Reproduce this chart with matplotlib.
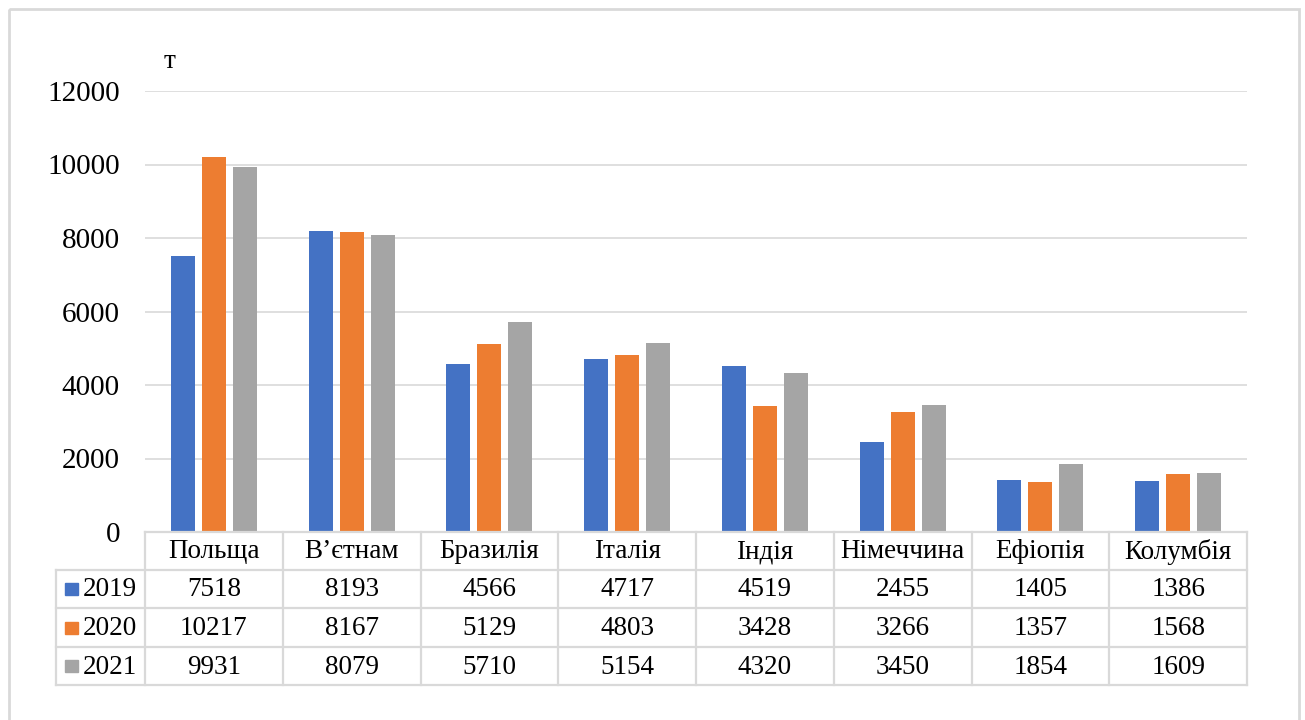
import matplotlib.pyplot as plt
import numpy as np
from matplotlib.patches import Rectangle

# Дані: країни та обсяги по роках (т)
countries = ['Польща', 'В’єтнам', 'Бразилія', 'Італія', 'Індія', 'Німеччина', 'Ефіопія', 'Колумбія']
years = ['2019', '2020', '2021']
v2019 = [7518, 8193, 4566, 4717, 4519, 2455, 1405, 1386]
v2020 = [10217, 8167, 5129, 4803, 3428, 3266, 1357, 1568]
v2021 = [9931, 8079, 5710, 5154, 4320, 3450, 1854, 1609]
series = [v2019, v2020, v2021]
colors = ['#4472C4', '#ED7D31', '#A5A5A5']
grid_color = '#d9d9d9'

W, H = 1305, 720
plt.rcParams['font.family'] = ['Liberation Serif', 'DejaVu Serif']
fs = 19.5
fs_ticks = 21

fig = plt.figure(figsize=(W / 100, H / 100), dpi=100)


def box(x0, y0, x1, y1):
    # прямокутник у пікселях (початок зверху зліва) -> координати фігури
    return [x0 / W, 1 - y1 / H, (x1 - x0) / W, (y1 - y0) / H]


# Основна область з гістограмою
left, right, top, bottom = 145, 1247, 91, 532
ax = fig.add_axes(box(left, top, right, bottom))
x = np.arange(len(countries))
width = 0.174
offsets = [-0.225, 0, 0.225]
for vals, off, c in zip(series, offsets, colors):
    ax.bar(x + off, vals, width=width, color=c, zorder=3)

ax.set_xlim(-0.5, len(countries) - 0.5)
ax.set_ylim(0, 12000)
ax.set_yticks(np.arange(0, 12001, 2000))
ax.set_xticks([])
ax.grid(axis='y', color=grid_color, lw=1.2, zorder=0)
for s in ax.spines.values():
    s.set_visible(False)
ax.tick_params(axis='y', length=0, pad=18, labelsize=fs_ticks)

# Накладна область для таблиці даних і рамки
tab = fig.add_axes([0, 0, 1, 1])
tab.set_xlim(0, W)
tab.set_ylim(H, 0)
tab.axis('off')
tab.patch.set_visible(False)

tab.text(170, 62, 'т', fontsize=fs, ha='center', va='center')

col_w = (right - left) / len(countries)
row_y = [bottom, 570, 608, 647, 685]
leg_left = 56
lw = 1.6

# горизонтальні лінії
tab.plot([left, right], [row_y[0], row_y[0]], color=grid_color, lw=lw)
for y in row_y[1:]:
    tab.plot([leg_left, right], [y, y], color=grid_color, lw=lw)
# вертикальні лінії
tab.plot([leg_left, leg_left], [row_y[1], row_y[-1]], color=grid_color, lw=lw)
for i in range(len(countries) + 1):
    xx = left + i * col_w
    tab.plot([xx, xx], [row_y[0], row_y[-1]], color=grid_color, lw=lw)

# заголовки країн
for i, name in enumerate(countries):
    tab.text(left + (i + 0.5) * col_w, (row_y[0] + row_y[1]) / 2 + 1, name,
             fontsize=fs, ha='center', va='center')

# рядки зі значеннями та легенда
for r, (yr, vals, c) in enumerate(zip(years, series, colors)):
    yc = (row_y[r + 1] + row_y[r + 2]) / 2
    tab.add_patch(Rectangle((65, yc - 6), 13, 12, color=c))
    tab.text(83, yc + 1, yr, fontsize=fs, ha='left', va='center')
    for i, v in enumerate(vals):
        tab.text(left + (i + 0.5) * col_w, yc + 1, str(v),
                 fontsize=fs, ha='center', va='center')

# рамка діаграми
tab.add_patch(Rectangle((8.5, 8.5), 1290, 800, fill=False,
                        edgecolor=grid_color, lw=2))

fig.savefig('out.png', dpi=100)
plt.close(fig)
